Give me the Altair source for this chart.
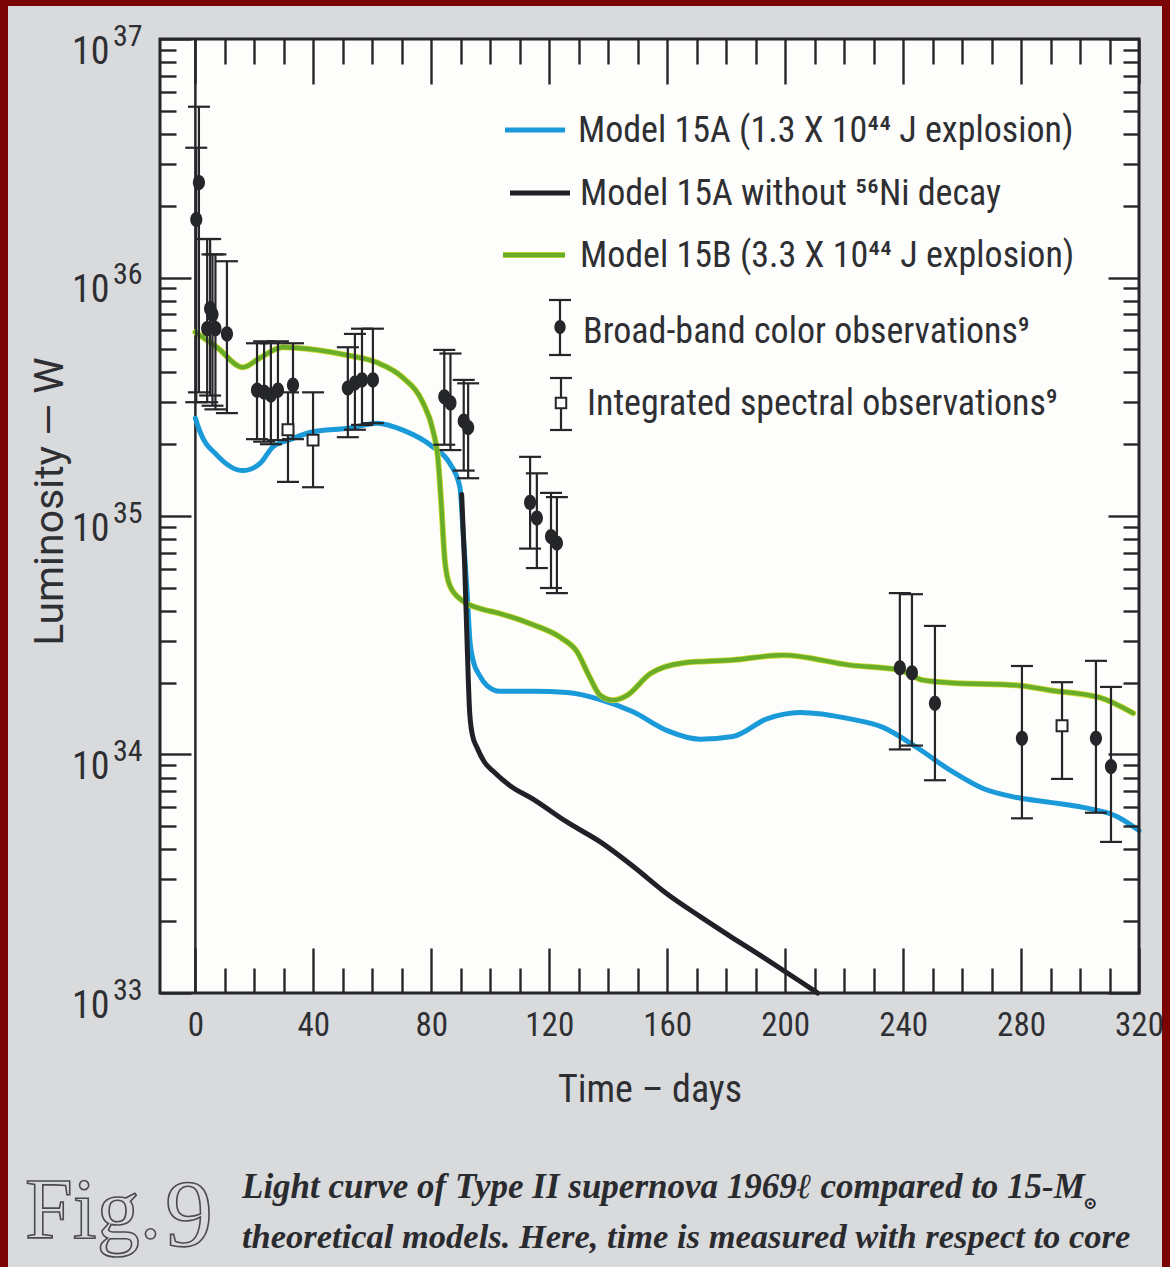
import altair as alt
import pandas as pd

# ---------------- data ----------------
# Model 15A (blue)
blue_t = [0, 1.6, 7.3, 16.1, 21.9, 26.3, 32.1, 38.9, 52.4, 61.6, 70.4, 80.5, 86.3, 89.7,
          90.8, 92.1, 93.1, 94.1, 96.4, 98.8, 103.3, 114.5, 126.1, 137.3, 148.4, 160.0,
          171.2, 182.3, 193.8, 205.0, 222.0, 233.2, 244.7, 255.9, 267.1, 278.6, 289.8,
          301.0, 312.5, 320.0]
blue_L = [2.57e35, 2.25e35, 1.80e35, 1.55e35, 1.66e35, 1.95e35, 2.09e35, 2.24e35, 2.34e35,
          2.45e35, 2.29e35, 1.95e35, 1.66e35, 1.32e35, 8.5e34, 4.9e34, 3.0e34, 2.5e34,
          2.14e34, 1.95e34, 1.84e34, 1.84e34, 1.82e34, 1.70e34, 1.51e34, 1.26e34, 1.16e34,
          1.19e34, 1.41e34, 1.50e34, 1.41e34, 1.30e34, 1.07e34, 8.6e33, 7.2e33, 6.6e33,
          6.3e33, 6.0e33, 5.5e33, 4.8e33]
# Model 15A without 56Ni decay (black)
black_t = [90.3, 91.3, 92.2, 93.0, 94.0, 95.5, 98.0, 101.0, 106.7, 114.5, 126.1, 137.3,
           148.4, 160.0, 171.2, 182.3, 193.8, 205.0, 211.0]
black_L = [1.23e35, 6.3e34, 2.8e34, 1.51e34, 1.20e34, 1.07e34, 9.3e33, 8.5e33, 7.4e33,
           6.5e33, 5.2e33, 4.3e33, 3.4e33, 2.6e33, 2.09e33, 1.70e33, 1.38e33, 1.12e33, 1.0e33]
# Model 15B (green)
green_t = [0, 7.3, 16.1, 21.9, 29.7, 41.2, 52.4, 61.6, 70.4, 77.2, 80.5, 82.3, 83.3, 84.6,
           86.3, 90.7, 96.4, 103.3, 114.5, 123.7, 129.4, 133.8, 137.3, 141.7, 146.4, 154.2,
           165.4, 182.3, 199.3, 222.0, 238.9, 246.7, 255.9, 278.6, 289.8, 306.8, 318.0]
green_L = [5.9e35, 5.1e35, 4.2e35, 4.6e35, 5.1e35, 4.97e35, 4.7e35, 4.4e35, 3.8e35, 2.98e35,
           2.3e35, 1.72e35, 1.17e35, 6.5e34, 5.1e34, 4.4e34, 4.1e34, 3.9e34, 3.5e34, 3.1e34,
           2.7e34, 2.1e34, 1.77e34, 1.69e34, 1.77e34, 2.18e34, 2.42e34, 2.49e34, 2.61e34,
           2.37e34, 2.26e34, 2.05e34, 2.0e34, 1.95e34, 1.86e34, 1.73e34, 1.49e34]

# Broad-band color observations (filled dots)
bb_t = [0.3, 1.2, 4.0, 5.0, 5.8, 6.8, 10.7, 20.9, 23.3, 25.6, 28.0, 33.1, 51.7, 54.1, 56.5,
        60.2, 84.4, 86.5, 91.0, 92.5, 113.5, 115.8, 120.6, 122.6, 238.9, 243.0, 250.8,
        280.3, 305.4, 310.5]
bb_L = [1.75e36, 2.5e36, 6.1e35, 7.4e35, 7.0e35, 6.1e35, 5.8e35, 3.37e35, 3.31e35, 3.22e35,
        3.37e35, 3.54e35, 3.44e35, 3.61e35, 3.72e35, 3.72e35, 3.16e35, 2.98e35, 2.5e35,
        2.35e35, 1.14e35, 9.8e34, 8.2e34, 7.7e34, 2.31e34, 2.2e34, 1.64e34, 1.17e34,
        1.17e34, 8.9e33]
bb_hi = [3.5e36, 5.2e36, 1.45e36, 1.45e36, 1.25e36, 1.25e36, 1.17e36, 5.3e35, 5.4e35,
         5.3e35, 5.4e35, 5.3e35, 5.1e35, 5.8e35, 6.1e35, 6.1e35, 4.97e35, 4.8e35, 3.72e35,
         3.6e35, 1.77e35, 1.51e35, 1.25e35, 1.2e35, 4.75e34, 4.7e34, 3.46e34, 2.35e34,
         2.47e34, 1.92e34]
bb_lo = [3.0e35, 3.3e35, 3.0e35, 3.2e35, 2.9e35, 2.8e35, 2.7e35, 2.1e35, 2.05e35, 2.0e35,
         2.08e35, 2.1e35, 2.14e35, 2.3e35, 2.41e35, 2.45e35, 1.99e35, 1.89e35, 1.55e35,
         1.44e35, 7.3e34, 6.05e34, 4.99e34, 4.75e34, 1.05e34, 1.09e34, 7.8e33, 5.4e33,
         5.7e33, 4.3e33]
# Integrated spectral observations (open squares)
sp_t = [31.4, 39.9, 293.9]
sp_L = [2.3e35, 2.08e35, 1.32e34]
sp_hi = [3.3e35, 3.3e35, 2.01e34]
sp_lo = [1.39e35, 1.32e35, 7.9e33]

# ticks / labels
x_major_ticks = [0, 40, 80, 120, 160, 200, 240, 280, 320]
x_minor_ticks = [t for t in range(10, 320, 10) if t % 40 != 0]
y_decades = [1e33, 1e34, 1e35, 1e36, 1e37]
y_exponents = ["33", "34", "35", "36", "37"]
y_minor_ticks = [k * 10.0 ** e for e in range(33, 37) for k in range(2, 10)]

legend_labels = [
    "Model 15A (1.3 X 10\u2074\u2074 J explosion)",
    "Model 15A without \u2075\u2076Ni decay",
    "Model 15B (3.3 X 10\u2074\u2074 J explosion)",
    "Broad-band color observations\u2079",
    "Integrated spectral observations\u2079",
]
x_title = "Time \u2013 days"
y_title = "Luminosity   \u2014   W"
caption_fig = "Fig."
caption_num = "9"
caption_line1 = "Light curve of Type II supernova 1969\u2113 compared to 15-M"
caption_sub = "\u2299"
caption_line2 = "theoretical models. Here, time is measured with respect to core"

# ---------------- layout / style ----------------
W, H = 979, 954
PL, PT = 160, 39
PR = 1170 - PL - W
PB = 1267 - PT - H

RED = "#7c0303"
PAPER = "#d9dadc"
WHITE = "#fdfdfb"
INK = "#25262a"
TXT = "#2e2f33"
BLUE = "#1a9ad8"
BLACK = "#1f2126"
GREEN = "#6aad2a"
YELLOW = "#cfdc34"
FONT = "Roboto Condensed, Liberation Sans Narrow, DejaVu Sans Condensed, sans-serif"
FONT_REG = "Roboto, Liberation Sans, DejaVu Sans, sans-serif"
SERIF = "Liberation Serif, DejaVu Serif, serif"

xscale = alt.Scale(domain=[-12, 320], nice=False, zero=False)
yscale = alt.Scale(type="log", domain=[1e33, 1e37], nice=False)


def tick_axis(orient, values, size, **extra):
    d = dict(orient=orient, values=values, tickSize=size, offset=-size, domain=False,
             grid=False, labels=False, ticks=True, tickColor=INK, tickWidth=2.4,
             title=None, zindex=3)
    d.update(extra)
    return alt.Axis(**d)


exp_expr = " : ".join(
    f"round(log(datum.value)/LN10) == {e} ? '{e}'" for e in y_exponents) + " : ''"

ax_x_bottom = tick_axis("bottom", x_major_ticks, 45, labels=True, labelFont=FONT,
                        labelFontSize=33, labelColor=TXT, labelPadding=16,
                        labelFlush=False, labelOverlap=False,
                        title=x_title, titleFont=FONT, titleFontSize=38,
                        titleFontWeight="normal", titleColor=TXT, titleY=142,
                        titleBaseline="middle")
ax_x_bottom_minor = tick_axis("bottom", x_minor_ticks, 25)
ax_x_top = tick_axis("top", x_major_ticks, 45)
ax_x_top_minor = tick_axis("top", x_minor_ticks, 25)
ax_y_left = tick_axis("left", y_decades, 31, labels=True, labelExpr="'10'",
                      labelFont=FONT, labelFontSize=38, labelColor=TXT, labelPadding=51,
                      labelOffset=13, labelAlign="right", labelBaseline="middle",
                      labelOverlap=False,
                      title=y_title, titleFont=FONT_REG, titleFontSize=41,
                      titleFontWeight="normal", titleColor=TXT, titleAngle=270,
                      titleX=-141, titleY=462, titleAlign="center",
                      titleBaseline="middle")
ax_y_left_exp = tick_axis("left", y_decades, 31, tickOpacity=0, labels=True,
                          labelExpr=exp_expr, labelFont=FONT, labelFontSize=30,
                          labelColor=TXT, labelPadding=18, labelOffset=-3,
                          labelAlign="right", labelBaseline="middle", labelOverlap=False)
ax_y_left_minor = tick_axis("left", y_minor_ticks, 16)
ax_y_right = tick_axis("right", y_decades, 31)
ax_y_right_minor = tick_axis("right", y_minor_ticks, 16)

one = pd.DataFrame({"k": [0]})


def X(field, axis=None):
    return alt.X(field, type="quantitative", scale=xscale, axis=axis)


def Y(field, axis=None):
    return alt.Y(field, type="quantitative", scale=yscale, axis=axis)


# backgrounds
bg = alt.Chart(one).mark_rect(color=PAPER).encode(
    x=alt.value(-PL + 8), x2=alt.value(W + PR - 8),
    y=alt.value(-PT + 6), y2=alt.value(H + PB + 5))
plot_bg = alt.Chart(one).mark_rect(color=WHITE).encode(
    x=alt.value(0), x2=alt.value(W), y=alt.value(0), y2=alt.value(H))
frame = alt.Chart(one).mark_rect(fillOpacity=0, stroke=INK, strokeWidth=3).encode(
    x=alt.value(0), x2=alt.value(W), y=alt.value(0), y2=alt.value(H))

zero = alt.Chart(pd.DataFrame({"t": [0]})).mark_rule(color=INK, strokeWidth=2.5).encode(
    x=X("t"), y=alt.value(0), y2=alt.value(H))


def line_layer(t, L, color, width=5, xaxis=None, yaxis=None):
    df = pd.DataFrame({"t": t, "L": L})
    return alt.Chart(df).mark_line(color=color, strokeWidth=width, interpolate="monotone",
                                   strokeCap="round", strokeJoin="round").encode(
        x=X("t", xaxis), y=Y("L", yaxis))


blue = line_layer(blue_t, blue_L, BLUE, 5, ax_x_bottom, ax_y_left)
green_under = line_layer(green_t, green_L, YELLOW, 6)
green = line_layer(green_t, green_L, GREEN, 4.4)
black = line_layer(black_t, black_L, BLACK)

obs = pd.concat([
    pd.DataFrame({"t": bb_t, "L": bb_L, "hi": bb_hi, "lo": bb_lo, "kind": "bb"}),
    pd.DataFrame({"t": sp_t, "L": sp_L, "hi": sp_hi, "lo": sp_lo, "kind": "sp"}),
])

err = alt.Chart(obs).mark_rule(color=INK, strokeWidth=2.2).encode(
    x=X("t", ax_x_bottom_minor), y=Y("lo", ax_y_left_minor), y2="hi")
cap_hi = alt.Chart(obs).mark_rule(color=INK, strokeWidth=2.2, xOffset=-11, x2Offset=11).encode(
    x=X("t", ax_x_top), x2="t", y=Y("hi", ax_y_left_exp))
cap_lo = alt.Chart(obs).mark_rule(color=INK, strokeWidth=2.2, xOffset=-11, x2Offset=11).encode(
    x=X("t", ax_x_top_minor), x2="t", y=Y("lo", ax_y_right))

ELLIPSE = "M-0.8,0 A0.8,1 0 1,1 0.8,0 A0.8,1 0 1,1 -0.8,0 Z"
bb_pts = alt.Chart(obs[obs.kind == "bb"]).mark_point(
    shape=ELLIPSE, filled=True, size=230, color=INK, opacity=1).encode(
    x=X("t"), y=Y("L", ax_y_right_minor))
sp_pts = alt.Chart(obs[obs.kind == "sp"]).mark_point(
    shape="square", filled=True, size=120, fill=WHITE, stroke=INK, strokeWidth=2,
    opacity=1).encode(x=X("t"), y=Y("L"))

# legend (drawn inside the plot, upper right)
LEG_FS = 36


def leg_text(label, x, y):
    return alt.Chart(one).mark_text(align="left", baseline="middle", font=FONT,
                                    fontSize=LEG_FS, color=TXT).encode(
        x=alt.value(x), y=alt.value(y), text=alt.value(label))


def leg_line(color, x1, x2, y, width=5):
    return alt.Chart(one).mark_rule(color=color, strokeWidth=width).encode(
        x=alt.value(x1), x2=alt.value(x2), y=alt.value(y))


def leg_rule(x1, x2, y1, y2):
    return alt.Chart(one).mark_rule(color=INK, strokeWidth=2.2).encode(
        x=alt.value(x1), x2=alt.value(x2), y=alt.value(y1), y2=alt.value(y2))


legend = [
    leg_line(BLUE, 345, 405, 91), leg_text(legend_labels[0], 418, 92),
    leg_line(BLACK, 350, 410, 154), leg_text(legend_labels[1], 420, 155),
    leg_line(YELLOW, 343, 405, 216, 6), leg_line(GREEN, 343, 405, 216, 4.4),
    leg_text(legend_labels[2], 420, 217),
    leg_rule(400, 400, 261, 316), leg_rule(389, 411, 261, 261), leg_rule(389, 411, 316, 316),
    alt.Chart(one).mark_point(shape=ELLIPSE, filled=True, size=200, color=INK, opacity=1).encode(
        x=alt.value(400), y=alt.value(288)),
    leg_text(legend_labels[3], 423, 293),
    leg_rule(401, 401, 339, 391), leg_rule(390, 412, 339, 339), leg_rule(390, 412, 391, 391),
    alt.Chart(one).mark_point(shape="square", filled=True, size=110, fill=WHITE, stroke=INK,
                              strokeWidth=2, opacity=1).encode(x=alt.value(401), y=alt.value(364)),
    leg_text(legend_labels[4], 427, 365),
]

# caption under the chart
fig_txt = alt.Chart(one).mark_text(align="left", baseline="alphabetic", font=SERIF,
                                   fontSize=86, fill=PAPER, stroke="#4a4b50",
                                   strokeWidth=1.6).encode(
    x=alt.value(-135), y=alt.value(1199), text=alt.value(caption_fig))
num_txt = alt.Chart(one).mark_text(align="left", baseline="alphabetic", font=SERIF,
                                   fontSize=96, fill=PAPER, stroke="#4a4b50",
                                   strokeWidth=1.6).encode(
    x=alt.value(5), y=alt.value(1207), text=alt.value(caption_num))
cap1 = alt.Chart(one).mark_text(align="left", baseline="alphabetic", font=SERIF,
                                fontSize=35, fontStyle="italic", fontWeight="bold",
                                color="#2a2b2f").encode(
    x=alt.value(82), y=alt.value(1159), text=alt.value(caption_line1))
cap_sub = alt.Chart(one).mark_text(align="left", baseline="middle", font=SERIF,
                                   fontSize=17, fontWeight="bold", color="#2a2b2f").encode(
    x=alt.value(923), y=alt.value(1165), text=alt.value(caption_sub))
cap2 = alt.Chart(one).mark_text(align="left", baseline="alphabetic", font=SERIF,
                                fontSize=34.5, fontStyle="italic", fontWeight="bold",
                                color="#2a2b2f").encode(
    x=alt.value(82), y=alt.value(1209), text=alt.value(caption_line2))

layers = [bg, plot_bg, zero, blue, green_under, green, black, err, cap_hi, cap_lo,
          bb_pts, sp_pts, frame] + legend + [fig_txt, num_txt, cap1, cap_sub, cap2]

chart = alt.layer(*layers).resolve_scale(x="shared", y="shared").resolve_axis(
    x="independent", y="independent").properties(
    width=W, height=H,
    padding={"left": PL, "top": PT, "right": PR, "bottom": PB},
    autosize=alt.AutoSizeParams(type="none"),
    background=RED,
).configure_view(strokeWidth=0)

chart.save("out.html", embed_options={"renderer": "svg", "actions": False})
